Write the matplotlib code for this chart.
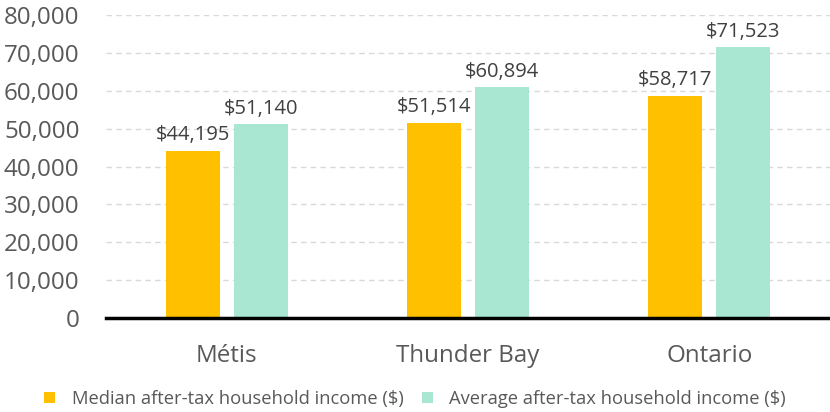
import matplotlib.pyplot as plt
import numpy as np

plt.rcParams['font.family'] = ['Open Sans', 'DejaVu Sans']

categories = ["Métis", "Thunder Bay", "Ontario"]
median_income = [44195, 51514, 58717]
average_income = [51140, 60894, 71523]
series_names = ["Median after-tax household income ($)",
                "Average after-tax household income ($)"]
y_ticks = [0, 10000, 20000, 30000, 40000, 50000, 60000, 70000, 80000]

orange = "#FFC000"
green = "#A9E7D3"
grey = "#595959"

fig = plt.figure(figsize=(8.3, 4.12), dpi=100)
ax = fig.add_axes([0.1277, 0.228, 0.8723, 0.7356])

x = np.arange(len(categories))
w = 0.224
off = 0.141
b1 = ax.bar(x - off, median_income, w, color=orange, label=series_names[0], zorder=2)
b2 = ax.bar(x + off, average_income, w, color=green, label=series_names[1], zorder=2)

for bars in (b1, b2):
    for r in bars:
        v = r.get_height()
        ax.annotate(f"${v:,.0f}", (r.get_x() + r.get_width() / 2, v),
                    xytext=(0, 4), textcoords="offset points",
                    ha="center", va="bottom", fontsize=14.5, color="#404040")

ax.set_xlim(-0.5, 2.5)
ax.set_ylim(0, 80000)
ax.set_yticks(y_ticks)
ax.set_yticklabels([f"{t:,}" for t in y_ticks], fontsize=17.4, color=grey)
ax.set_xticks(x)
ax.set_xticklabels(categories, fontsize=17.4, color=grey)
ax.tick_params(axis="both", length=0)
ax.tick_params(axis="x", pad=19)
ax.tick_params(axis="y", pad=19)

ax.yaxis.grid(True, color="#D9D9D9", linestyle=(0, (4, 3)), linewidth=1, zorder=0)
for s in ("top", "right", "left"):
    ax.spines[s].set_visible(False)
ax.spines["bottom"].set_linewidth(2.5)
ax.spines["bottom"].set_color("black")
ax.spines["bottom"].set_zorder(3)

leg = fig.legend(handles=[b1, b2], loc="lower center", bbox_to_anchor=(0.5, -0.03),
                 ncol=2, frameon=False, fontsize=13.2, handlelength=0.6,
                 handleheight=0.6, handletextpad=0.9, columnspacing=1.0)
for t in leg.get_texts():
    t.set_color(grey)

fig.savefig("out.png", dpi=100)
